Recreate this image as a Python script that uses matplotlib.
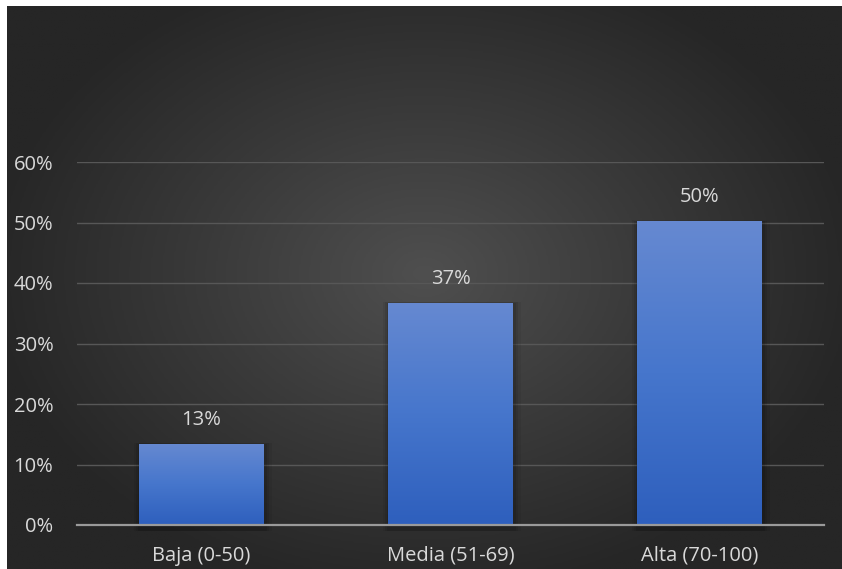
import matplotlib.pyplot as plt
import numpy as np
from matplotlib.colors import LinearSegmentedColormap
from matplotlib.patches import Rectangle

# Data
categories = ["Baja (0-50)", "Media (51-69)", "Alta (70-100)"]
shares = [0.134, 0.367, 0.502]
y_ticks = [0.0, 0.1, 0.2, 0.3, 0.4, 0.5, 0.6]

text_color = "#d9d9d9"
font = "Open Sans"

fig = plt.figure(figsize=(8.42, 5.69), dpi=100)
fig.patch.set_facecolor("white")

# Radial gradient chart area
bg = fig.add_axes([7 / 842, 0, 835 / 842, 563 / 569])
bg.set_axis_off()
gx, gy = np.meshgrid(np.linspace(-1, 1, 400), np.linspace(-1, 1, 300))
r = np.sqrt((gx / 1.05) ** 2 + ((gy + 0.05) / 1.15) ** 2)
r = np.clip(r, 0, 1)
bg_cmap = LinearSegmentedColormap.from_list("bg", ["#4f4f4f", "#3a3a3a", "#262626"])
bg.imshow(r, cmap=bg_cmap, aspect="auto", extent=[0, 1, 0, 1], vmin=0, vmax=1)
bg.set_xlim(0, 1)
bg.set_ylim(0, 1)

ax = fig.add_axes([77 / 842, 44 / 569, 747 / 842, 363 / 569])
ax.patch.set_alpha(0)
x = np.arange(len(categories))
width = 0.5

for t in y_ticks[1:]:
    ax.axhline(t, color="#575757", lw=1.0, zorder=1)

bar_cmap = LinearSegmentedColormap.from_list("bar", ["#2e5fbd", "#4676cc", "#6689d1"])
grad = np.linspace(0, 1, 256).reshape(-1, 1)
bars = ax.bar(x, shares, width=width, color="none", zorder=3)
for b, v in zip(bars, shares):
    # soft shadow around the bar
    for k, a in [(0.04, 0.06), (0.026, 0.08), (0.014, 0.1)]:
        ax.add_patch(Rectangle((b.get_x() - k * 0.5, -0.01), b.get_width() + k * 1.3,
                               v + 0.01 + k * 0.05, color="black", alpha=a, lw=0,
                               zorder=2, clip_on=False))
    im = ax.imshow(grad, cmap=bar_cmap, aspect="auto", origin="lower",
                   extent=[b.get_x(), b.get_x() + b.get_width(), 0, v], zorder=3)
    im.set_clip_path(b)
    ax.text(b.get_x() + b.get_width() / 2, v + 0.04, f"{v:.0%}", ha="center",
            va="center", color=text_color, fontsize=14.5, family=font, zorder=4)

ax.set_xlim(-0.5, 2.5)
ax.set_ylim(0, 0.6)

for s in ["top", "right", "left"]:
    ax.spines[s].set_visible(False)
ax.spines["bottom"].set_color("#9a9a9a")
ax.spines["bottom"].set_linewidth(1.6)
ax.spines["bottom"].set_zorder(5)

ax.set_yticks(y_ticks)
ax.set_yticklabels([f"{t:.0%}" for t in y_ticks])
ax.set_xticks(x)
ax.set_xticklabels(categories)
ax.tick_params(axis="both", length=0, colors=text_color, labelsize=14.5)
ax.tick_params(axis="y", pad=17)
ax.tick_params(axis="x", pad=15)
for lbl in ax.get_xticklabels() + ax.get_yticklabels():
    lbl.set_family(font)

fig.savefig("out.png", dpi=100)
